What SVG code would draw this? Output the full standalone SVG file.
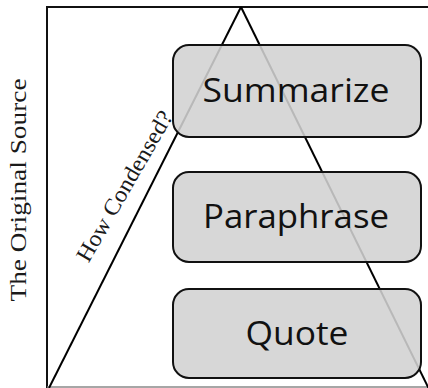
<svg xmlns="http://www.w3.org/2000/svg" width="428" height="388" viewBox="0 0 428 388">
<style>
.frame{stroke:#111;stroke-width:2;fill:none}
.leg{stroke:#000;stroke-width:2;fill:none}
.box{fill:#d2d2d2;fill-opacity:0.88;stroke:#111;stroke-width:2}
.lbl{font-family:"Open Sans","Liberation Sans",sans-serif;font-size:33px;fill:#111;text-anchor:middle}
.side{font-family:"Liberation Serif",serif;fill:#1a1a1a;text-anchor:middle}
</style>
<rect width="428" height="388" fill="#fff"/>
<g id="frame">
<line class="frame" x1="47" y1="7" x2="428" y2="7"/>
<line class="frame" x1="47" y1="6" x2="47" y2="388"/>
<line x1="47" y1="387" x2="428" y2="387" stroke="#888" stroke-width="1.5"/>
</g>
<g id="connectors">
<line class="leg" x1="49" y1="388" x2="241" y2="7"/>
<line class="leg" x1="241" y1="7" x2="429" y2="389"/>
</g>
<g id="summarize">
<rect class="box" x="173" y="45" width="248" height="92" rx="16"/>
<text class="lbl" x="296" y="102" textLength="187" lengthAdjust="spacingAndGlyphs">Summarize</text>
</g>
<g id="paraphrase">
<rect class="box" x="173" y="172" width="248" height="90" rx="16"/>
<text class="lbl" x="296" y="228" textLength="186" lengthAdjust="spacingAndGlyphs">Paraphrase</text>
</g>
<g id="quote">
<rect class="box" x="173" y="289" width="248" height="89" rx="16"/>
<text class="lbl" x="297" y="345" textLength="103" lengthAdjust="spacingAndGlyphs">Quote</text>
</g>
<g id="source-label">
<text class="side" font-size="24" transform="translate(26,190) rotate(-90)" textLength="223" lengthAdjust="spacingAndGlyphs">The Original Source</text>
</g>
<g id="condensed-label">
<text class="side" font-size="23" transform="translate(131,190) rotate(-60)" textLength="170" lengthAdjust="spacingAndGlyphs">How Condensed?</text>
</g>
</svg>
